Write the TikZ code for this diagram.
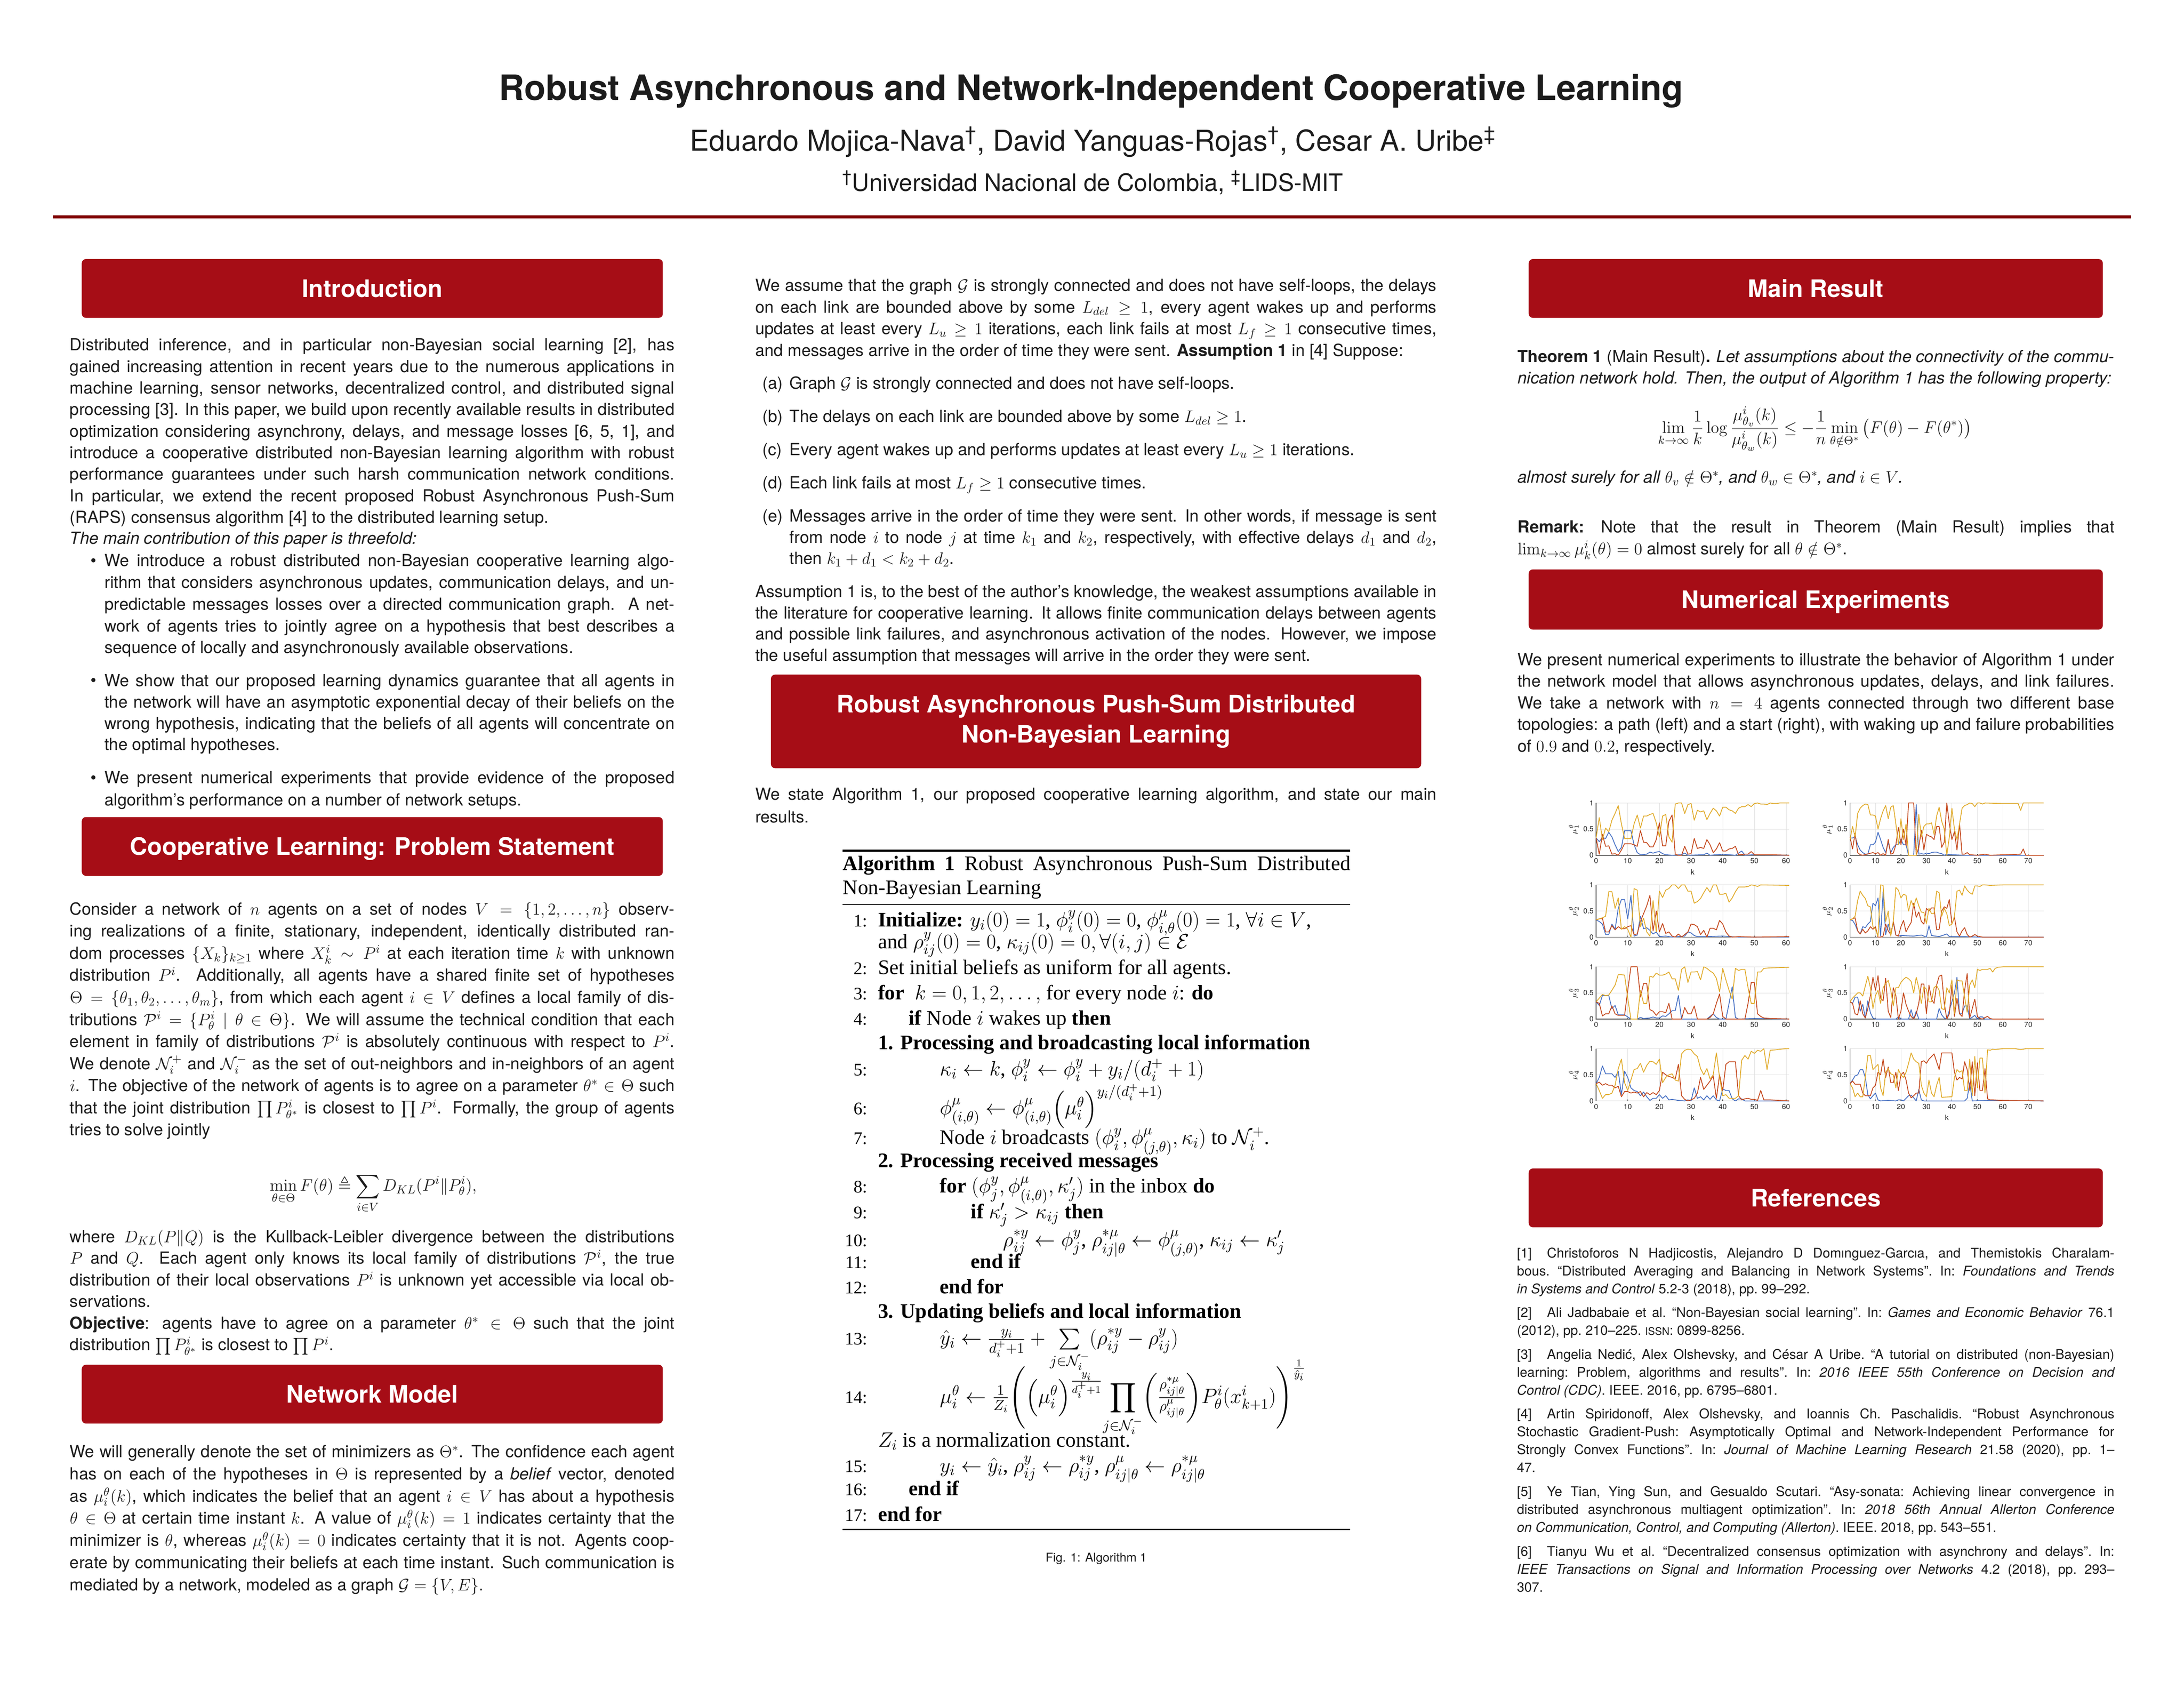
\documentclass[tikz,border=0pt]{standalone}
\usepackage{fix-cm}
\usepackage{amsmath,amssymb}
\usepackage[no-math]{fontspec}
\setmainfont{TeX Gyre Heros}
\newfontfamily\algfont{Liberation Serif}
\setlength{\parindent}{0pt}
\definecolor{boxred}{RGB}{166,13,22}
\definecolor{rulered}{RGB}{128,0,0}
\definecolor{txt}{RGB}{28,28,28}
\definecolor{mblue}{RGB}{70,112,196}
\definecolor{mred}{RGB}{196,72,28}
\definecolor{myellow}{RGB}{225,172,45}
\newcommand\bodyfs[1]{\fontsize{13.7}{#1}\selectfont}
\newcommand\algfs{\algfont\fontsize{17}{20}\selectfont}
\tikzset{
  hdr/.style={fill=boxred, rounded corners=3.4pt, text=white, font=\fontsize{19.8}{24.9}\selectfont\bfseries, inner sep=0pt, minimum height=1.696cm, minimum width=16.76cm, text height=14.2pt, text depth=0pt},
  para/.style={anchor=north west, inner sep=0pt, align=justify, text=txt},
  oneline/.style={anchor=base west, inner sep=0pt, text=txt, font=\bodyfs{17.7}},
  algl/.style={anchor=base west, inner sep=0pt, text=black, font=\algfs},
  algn/.style={anchor=base east, inner sep=0pt, text=black, font=\algfont\fontsize{14.5}{17}\selectfont},
  gridc/.style={draw=black!13, line width=0.3pt},
  axc/.style={draw=black!75, line width=0.45pt},
  tickl/.style={inner sep=0.3pt, text=black!85, font=\fontsize{6}{7}\selectfont},
  cb/.style={draw=mblue, line width=0.65pt, line join=round},
  cr/.style={draw=mred, line width=0.65pt, line join=round},
  cy/.style={draw=myellow, line width=0.65pt, line join=round},
}
% #1 x0, #2 y0 (bottom), #3 unit per k, #4 xmax, #5 mu index, #6 xticks, #7 id
\newcommand\plotframe[7]{%
  \foreach \tk in {#6}{%
    \pgfmathsetmacro\xx{#1+\tk*#3}%
    \draw[gridc] (\xx,#2) -- (\xx,#2-37.5);
    \draw[axc] (\xx,#2) -- (\xx,#2-1.0);
    \node[tickl,anchor=north] (tx#7-\tk) at (\xx,#2+1.8) {\tk};
  }%
  \pgfmathsetmacro\xe{#1+#4*#3}%
  \draw[gridc] (#1,#2-18.75) -- (\xe,#2-18.75) (#1,#2-37.5) -- (\xe,#2-37.5);
  \draw[axc] (#1,#2-37.5) -- (#1,#2) -- (\xe,#2);
  \node[tickl,anchor=east] (ty#7a) at (#1-1.4,#2) {0};
  \node[tickl,anchor=east] (ty#7b) at (#1-1.4,#2-18.75) {0.5};
  \node[tickl,anchor=east] (ty#7c) at (#1-1.4,#2-37.5) {1};
  \node[tickl,rotate=90] (yl#7) at (#1-16,#2-18.75) {$\mu^{\theta}_{#5}$};
  \node[tickl] (xl#7) at ({(#1+\xe)/2},#2+12) {k};
}
% #1 x0, #2 y0, #3 unit, #4 blue, #5 red, #6 yellow
\newcommand\curves[6]{%
  \begin{scope}[shift={(#1,#2)},xscale=#3,yscale=-37.5]
    \draw[cb] plot coordinates {#4};
    \draw[cr] plot coordinates {#5};
    \draw[cy] plot coordinates {#6};
  \end{scope}}
\begin{document}
\begin{tikzpicture}[x=0.040179cm,y=-0.040179cm]
\useasboundingbox (0,0) rectangle (1568,1213.3);
\fill[white] (0,0) rectangle (1568,1213.3);

% ---------- title block ----------
\node[anchor=base, inner sep=0pt, text=txt, font=\fontsize{28.75}{34}\selectfont\bfseries] (title) at (783.4,72.0) {Robust Asynchronous and Network-Independent Cooperative Learning};
\node[anchor=base, inner sep=0pt, text=txt, font=\fontsize{23.6}{28}\selectfont] (authors) at (784.7,108.5) {Eduardo Mojica-Nava\textsuperscript{\textdagger}, David Yanguas-Rojas\textsuperscript{\textdagger}, Cesar A. Uribe\textsuperscript{\textdaggerdbl}};
\node[anchor=base, inner sep=0pt, text=txt, font=\fontsize{19.6}{24}\selectfont] (affil) at (784.5,137.2) {\textsuperscript{\textdagger}Universidad Nacional de Colombia, \textsuperscript{\textdaggerdbl}LIDS-MIT};
\coordinate (rl) at (38,155.7);
\coordinate (rr) at (1530,155.7);
\draw[rulered, line width=0.09cm] (rl) -- (rr);

% ---------- left column ----------
\node[hdr] (hintro) at (267.3,207.1) {Introduction};
\node[para, text width=17.442cm, font=\bodyfs{17.70}] (pintro) at (50.0,240.7) {\strut Distributed inference, and in particular non-Bayesian social learning [2], has\linebreak gained increasing attention in recent years due to the numerous applications in\linebreak machine learning, sensor networks, decentralized control, and distributed signal\linebreak processing [3]. In this paper, we build upon recently available results in distributed\linebreak optimization considering asynchrony, delays, and message losses [6, 5, 1], and\linebreak introduce a cooperative distributed non-Bayesian learning algorithm with robust\linebreak performance guarantees under such harsh communication network conditions.\linebreak In particular, we extend the recent proposed Robust Asynchronous Push-Sum\linebreak (RAPS) consensus algorithm [4] to the distributed learning setup.};
\node[oneline] (pmain) at (50.0,390.5) {\textit{The main contribution of this paper is threefold:}};
\node[oneline] (b1) at (65.0,406.5) {\textbullet};
\node[para, text width=16.441cm, font=\bodyfs{17.84}] (pb1) at (74.9,395.6) {\strut We introduce a robust distributed non-Bayesian cooperative learning algo-\linebreak rithm that considers asynchronous updates, communication delays, and un-\linebreak predictable messages losses over a directed communication graph.\ \ A net-\linebreak work of agents tries to jointly agree on a hypothesis that best describes a\linebreak sequence of locally and asynchronously available observations.};
\node[oneline] (b2) at (65.0,492.6) {\textbullet};
\node[para, text width=16.441cm, font=\bodyfs{17.5}] (pb2) at (74.9,481.9) {\strut We show that our proposed learning dynamics guarantee that all agents in\linebreak the network will have an asymptotic exponential decay of their beliefs on the\linebreak wrong hypothesis, indicating that the beliefs of all agents will concentrate on\linebreak the optimal hypotheses.};
\node[oneline] (b3) at (65.0,562.4) {\textbullet};
\node[para, text width=16.441cm, font=\bodyfs{18.07}] (pb3) at (74.9,551.3) {\strut We present numerical experiments that provide evidence of the proposed\linebreak algorithm's performance on a number of network setups.};

\node[hdr] (hcoop) at (267.3,607.7) {Cooperative Learning: Problem Statement};
\node[para, text width=17.442cm, font=\bodyfs{18.12}] (pcoop) at (50.0,645.5) {\strut Consider a network of $n$ agents on a set of nodes $V=\{1,2,\dots,n\}$ observ-\linebreak ing realizations of a finite, stationary, independent, identically distributed ran-\linebreak dom processes $\{X_k\}_{k\geq1}$ where $X_k^i\sim P^i$ at each iteration time $k$ with unknown\linebreak distribution $P^i$. Additionally, all agents have a shared finite set of hypotheses\linebreak $\Theta=\{\theta_1,\theta_2,\dots,\theta_m\}$, from which each agent $i\in V$ defines a local family of dis-\linebreak tributions $\mathcal{P}^i=\{P_\theta^i\mid\theta\in\Theta\}$. We will assume the technical condition that each\linebreak element in family of distributions $\mathcal{P}^i$ is absolutely continuous with respect to $P^i$.\linebreak We denote $\mathcal{N}_i^+$ and $\mathcal{N}_i^-$ as the set of out-neighbors and in-neighbors of an agent\linebreak $i$. The objective of the network of agents is to agree on a parameter $\theta^*\in\Theta$ such\linebreak that the joint distribution $\prod P_{\theta^*}^i$ is closest to $\prod P^i$. Formally, the group of agents\linebreak tries to solve jointly};
\node[anchor=base, inner sep=0pt, text=txt, font=\bodyfs{17.7}] (eqkl) at (268,855.0) {$\displaystyle\min_{\theta\in\Theta}F(\theta)\triangleq\sum_{i\in V}D_{KL}(P^i\|P_\theta^i),$};
\node[para, text width=17.442cm, font=\bodyfs{17.76}] (pwhere) at (50.0,880.9) {\strut where $D_{KL}(P\|Q)$ is the Kullback-Leibler divergence between the distributions\linebreak $P$ and $Q$. Each agent only knows its local family of distributions $\mathcal{P}^i$, the true\linebreak distribution of their local observations $P^i$ is unknown yet accessible via local ob-\linebreak servations.\par \textbf{Objective}: agents have to agree on a parameter $\theta^*\in\Theta$ such that the joint\linebreak distribution $\prod P_{\theta^*}^i$ is closest to $\prod P^i$.};

\node[hdr] (hnet) at (267.3,1000.9) {Network Model};
\node[para, text width=17.442cm, font=\bodyfs{18.28}] (pnet) at (50.0,1034.8) {\strut We will generally denote the set of minimizers as $\Theta^*$. The confidence each agent\linebreak has on each of the hypotheses in $\Theta$ is represented by a \emph{belief} vector, denoted\linebreak as $\mu_i^\theta(k)$, which indicates the belief that an agent $i\in V$ has about a hypothesis\linebreak $\theta\in\Theta$ at certain time instant $k$. A value of $\mu_i^\theta(k)=1$ indicates certainty that the\linebreak minimizer is $\theta$, whereas $\mu_i^\theta(k)=0$ indicates certainty that it is not. Agents coop-\linebreak erate by communicating their beliefs at each time instant. Such communication is\linebreak mediated by a network, modeled as a graph $\mathcal{G}=\{V,E\}$.};

% ---------- middle column ----------
\node[para, text width=19.652cm, font=\bodyfs{17.8}] (pass) at (542.1,197.9) {\strut We assume that the graph $\mathcal{G}$ is strongly connected and does not have self-loops, the delays\linebreak on each link are bounded above by some $L_{del}\geq1$, every agent wakes up and performs\linebreak updates at least every $L_u\geq1$ iterations, each link fails at most $L_f\geq1$ consecutive times,\linebreak and messages arrive in the order of time they were sent. \textbf{Assumption 1} in [4] Suppose:};
\node[oneline] (la) at (547.2,279.3) {(a)};
\node[oneline] (ia) at (566.8,279.3) {Graph $\mathcal{G}$ is strongly connected and does not have self-loops.};
\node[oneline] (lb) at (547.2,303.1) {(b)};
\node[oneline] (ib) at (566.8,303.1) {The delays on each link are bounded above by some $L_{del}\geq1$.};
\node[oneline] (lc) at (547.2,326.9) {(c)};
\node[oneline] (ic) at (566.8,326.9) {Every agent wakes up and performs updates at least every $L_u\geq1$ iterations.};
\node[oneline] (ld) at (547.2,350.7) {(d)};
\node[oneline] (id) at (566.8,350.7) {Each link fails at most $L_f\geq1$ consecutive times.};
\node[oneline] (le) at (547.2,374.5) {(e)};
\node[para, text width=18.659cm, font=\bodyfs{17.44}] (ie) at (566.8,363.8) {\strut Messages arrive in the order of time they were sent. In other words, if message is sent\linebreak from node $i$ to node $j$ at time $k_1$ and $k_2$, respectively, with effective delays $d_1$ and $d_2$,\linebreak then $k_1+d_1<k_2+d_2$.};
\node[para, text width=19.652cm, font=\bodyfs{17.42}] (pass2) at (542.1,418.1) {\strut Assumption 1 is, to the best of the author's knowledge, the weakest assumptions available in\linebreak the literature for cooperative learning. It allows finite communication delays between agents\linebreak and possible link failures, and asynchronous activation of the nodes. However, we impose\linebreak the useful assumption that messages will arrive in the order they were sent.};

\node[fill=boxred, rounded corners=3.4pt, text=white, font=\fontsize{19.8}{24.9}\selectfont\bfseries, inner sep=0pt, minimum width=18.755cm, minimum height=2.70cm, align=center] (hraps) at (786.9,517.9) {Robust Asynchronous Push-Sum Distributed\\Non-Bayesian Learning};
\node[para, text width=19.652cm, font=\bodyfs{18.4}] (pstate) at (542.1,563.0) {\strut We state Algorithm 1, our proposed cooperative learning algorithm, and state our main\linebreak results.};

% algorithm
\coordinate (at1) at (605,610.8); \coordinate (at2) at (969.4,610.8);
\coordinate (am1) at (605,649.4); \coordinate (am2) at (969.4,649.4);
\coordinate (ab1) at (605,1098.0); \coordinate (ab2) at (969.4,1098.0);
\draw[line width=1.6pt] (at1) -- (at2);
\draw[line width=0.9pt] (am1) -- (am2);
\draw[line width=1.1pt] (ab1) -- (ab2);
\node[anchor=north west, inner sep=0pt, align=justify, text width=14.641cm, font=\algfont\fontsize{17}{19.8}\selectfont] (atitle) at (605,612.6) {\strut\textbf{Algorithm 1} Robust Asynchronous Push-Sum Distributed\linebreak Non-Bayesian Learning};
\node[algn] (n1) at (623,665.2) {1:};
\node[algl] (a1) at (630.2,665.2) {\textbf{Initialize:} $y_i(0)=1$, $\phi_i^y(0)=0$, $\phi_{i,\theta}^\mu(0)=1$, $\forall i\in V$,};
\node[algl] (a1b) at (630.2,681.0) {and $\rho_{ij}^y(0)=0$, $\kappa_{ij}(0)=0,\forall(i,j)\in\mathcal{E}$};
\node[algn] (n2) at (623,699.4) {2:};
\node[algl] (a2) at (630.2,699.4) {Set initial beliefs as uniform for all agents.};
\node[algn] (n3) at (623,717.6) {3:};
\node[algl] (a3) at (630.2,717.6) {\textbf{for}\ \ $k=0,1,2,\dots,$ for every node $i$: \textbf{do}};
\node[algn] (n4) at (623,735.8) {4:};
\node[algl] (a4) at (652.3,735.8) {\textbf{if} Node $i$ wakes up \textbf{then}};
\node[algl] (s1) at (630.2,753.3) {\textbf{1. Processing and broadcasting local information}};
\node[algn] (n5) at (623,772.3) {5:};
\node[algl] (a5) at (674.6,772.3) {$\kappa_i\leftarrow k$, $\phi_i^y\leftarrow\phi_i^y+y_i/(d_i^++1)$};
\node[algn] (n6) at (623,800.2) {6:};
\node[algl] (a6) at (674.6,800.2) {$\phi_{(i,\theta)}^\mu\leftarrow\phi_{(i,\theta)}^\mu\Big(\mu_i^\theta\Big)^{y_i/(d_i^++1)}$};
\node[algn] (n7) at (623,821.6) {7:};
\node[algl] (a7) at (674.6,821.6) {Node $i$ broadcasts $(\phi_i^y,\phi_{(j,\theta)}^\mu,\kappa_i)$ to $\mathcal{N}_i^+$.};
\node[algl] (s2) at (630.2,838.2) {\textbf{2. Processing received messages}};
\node[algn] (n8) at (623,856.4) {8:};
\node[algl] (a8) at (674.6,856.4) {\textbf{for} $(\phi_j^y,\phi_{(i,\theta)}^\mu,\kappa_j')$ in the inbox \textbf{do}};
\node[algn] (n9) at (623,874.7) {9:};
\node[algl] (a9) at (696.9,874.7) {\textbf{if} $\kappa_j'>\kappa_{ij}$ \textbf{then}};
\node[algn] (n10) at (623,894.7) {10:};
\node[algl] (a10) at (719.9,894.7) {$\rho_{ij}^{*y}\leftarrow\phi_j^y$, $\rho_{ij|\theta}^{*\mu}\leftarrow\phi_{(j,\theta)}^\mu$, $\kappa_{ij}\leftarrow\kappa_j'$};
\node[algn] (n11) at (623,910.4) {11:};
\node[algl] (a11) at (696.9,910.4) {\textbf{end if}};
\node[algn] (n12) at (623,928.8) {12:};
\node[algl] (a12) at (674.6,928.8) {\textbf{end for}};
\node[algl] (s3) at (630.2,946.2) {\textbf{3. Updating beliefs and local information}};
\node[algn] (n13) at (623,965.4) {13:};
\node[algl] (a13) at (674.6,965.4) {$\hat{y}_i\leftarrow\frac{y_i}{d_i^++1}+\sum\limits_{j\in\mathcal{N}_i^-}(\rho_{ij}^{*y}-\rho_{ij}^y)$};
\node[algn] (n14) at (623,1007.3) {14:};
\node[algl] (a14) at (674.6,1007.3) {$\mu_i^\theta\leftarrow\frac{1}{Z_i}\Bigg(\Big(\mu_i^\theta\Big)^{\frac{y_i}{d_i^++1}}{\displaystyle\prod_{j\in\mathcal{N}_i^-}}\bigg(\frac{\rho_{ij|\theta}^{*\mu}}{\rho_{ij|\theta}^{\mu}}\bigg)P_\theta^i(x_{k+1}^i)\Bigg)^{\frac{1}{\hat{y}_i}}$};
\node[algl] (az) at (630.2,1038.7) {$Z_i$ is a normalization constant.};
\node[algn] (n15) at (623,1057.0) {15:};
\node[algl] (a15) at (674.6,1057.0) {$y_i\leftarrow\hat{y}_i$, $\rho_{ij}^y\leftarrow\rho_{ij}^{*y}$, $\rho_{ij|\theta}^\mu\leftarrow\rho_{ij|\theta}^{*\mu}$};
\node[algn] (n16) at (623,1073.7) {16:};
\node[algl] (a16) at (652.3,1073.7) {\textbf{end if}};
\node[algn] (n17) at (623,1092.0) {17:};
\node[algl] (a17) at (630.2,1092.0) {\textbf{end for}};
\node[inner sep=0pt, text=txt, font=\fontsize{10}{12}\selectfont] (cap) at (787,1119) {Fig. 1: Algorithm 1};

% ---------- right column ----------
\node[hdr, minimum width=16.56cm] (hmain) at (1303.6,207.1) {Main Result};
\node[para, text width=17.213cm, font=\bodyfs{17.6}] (pthm) at (1089.4,249.3) {\strut\textbf{Theorem 1} (Main Result)\textbf{.} \textit{Let assumptions about the connectivity of the commu-\linebreak nication network hold. Then, the output of Algorithm 1 has the following property:}};
\node[inner sep=0pt, text=txt, font=\bodyfs{17.7}] (eqmain) at (1303,307.8) {$\displaystyle\lim_{k\to\infty}\frac{1}{k}\log\frac{\mu^i_{\theta_v}(k)}{\mu^i_{\theta_w}(k)}\leq-\frac{1}{n}\min_{\theta\notin\Theta^*}\big(F(\theta)-F(\theta^*)\big)$};
\node[oneline] (palm) at (1089.4,346.7) {\textit{almost surely for all $\theta_v\notin\Theta^*$, and $\theta_w\in\Theta^*$, and $i\in V$.}};
\node[para, text width=17.213cm, font=\bodyfs{17.95}] (prem) at (1089.4,371.2) {\strut\textbf{Remark:}\quad Note that the result in Theorem (Main Result) implies that\linebreak $\lim_{k\to\infty}\mu_k^i(\theta)=0$ almost surely for all $\theta\notin\Theta^*$.};
\node[hdr, minimum width=16.56cm, minimum height=1.736cm] (hnum) at (1303.6,430.4) {Numerical Experiments};
\node[para, text width=17.213cm, font=\bodyfs{17.72}] (pnum) at (1089.4,466.75) {\strut We present numerical experiments to illustrate the behavior of Algorithm 1 under\linebreak the network model that allows asynchronous updates, delays, and link failures.\linebreak We take a network with $n=4$ agents connected through two different base\linebreak topologies: a path (left) and a start (right), with waking up and failure probabilities\linebreak of $0.9$ and $0.2$, respectively.};

% plots
\plotframe{1145.9}{614.0}{2.273}{61}{1}{0,10,...,60}{p1}
\curves{1145.9}{614.0}{2.273}
{(0,.33)(1,.26)(2,.34)(3,.32)(4,.44)(5,.35)(6,.2)(7,.07)(8,.15)(9,.47)(11,.47)(12,.2)(13,.05)(14,.01)(16,.02)(17,.06)(18,.04)(19,.06)(20,.07)(21,.03)(22,.01)(24,0)(27,.01)(28,.04)(29,0)(34,.01)(35,.04)(36,0)(40,.02)(44,0)(45,.04)(46,.08)(47,0)(50,.01)(61,0)}
{(0,.33)(1,.02)(2,.4)(3,.17)(4,.18)(5,.02)(6,.03)(7,0)(8,.1)(9,.22)(11,.22)(12,.2)(13,.17)(14,.47)(15,.25)(16,.24)(17,.16)(18,.16)(19,.3)(20,.62)(21,.18)(22,.18)(23,.65)(24,.77)(25,.02)(26,0)(27,0)(28,.17)(29,.02)(30,.03)(31,.32)(32,.13)(33,.15)(34,.13)(35,.3)(36,.2)(37,.05)(38,.12)(39,.24)(40,.08)(41,.08)(42,.12)(43,.13)(44,.17)(45,.01)(47,.02)(48,.02)(49,.07)(50,.01)(55,.01)(61,0)}
{(0,.33)(1,.72)(2,.3)(3,.52)(4,.45)(5,.67)(6,.8)(7,.95)(8,.6)(9,.32)(11,.32)(12,.6)(13,.77)(14,.52)(15,.75)(16,.75)(17,.78)(18,.8)(19,.62)(20,.35)(21,.75)(22,.78)(23,.35)(24,.25)(25,.98)(26,1)(27,1)(28,.8)(29,.97)(30,.99)(31,.67)(32,.86)(33,.83)(34,.85)(35,.68)(36,.8)(37,.9)(38,.85)(39,.75)(40,.92)(41,.92)(42,.87)(43,.85)(44,.8)(45,.9)(46,.93)(47,.93)(48,.97)(49,.93)(50,.99)(51,1)(52,.98)(53,.98)(54,.97)(55,1)(56,.99)(57,.99)(58,1)(61,1)}

\plotframe{1328.2}{614.0}{1.8286}{76}{1}{0,10,...,70}{p2}
\curves{1328.2}{614.0}{1.8286}
{(0,.33)(1,.33)(2,.36)(3,.2)(4,.1)(5,.05)(6,.02)(7,.02)(8,.2)(9,.2)(10,.25)(11,.44)(12,.3)(13,.15)(14,.05)(15,.25)(16,.05)(17,.15)(18,.2)(19,.2)(20,.3)(21,.2)(22,.2)(23,0)(25,0)(26,.97)(27,.02)(28,.03)(29,.02)(30,.04)(31,.03)(32,.05)(33,.06)(34,.06)(35,.04)(36,.03)(37,0)(38,.02)(40,.01)(45,0)(76,0)}
{(0,.35)(1,.12)(2,.42)(3,.05)(4,.01)(5,0)(9,.05)(10,.03)(11,.05)(12,0)(13,.03)(14,0)(15,.3)(16,.02)(17,.04)(18,.2)(19,.53)(20,.2)(21,.5)(22,.18)(23,1)(25,1)(26,0)(27,.15)(28,.48)(29,.1)(30,.4)(31,.37)(32,.35)(33,.3)(34,.55)(35,.55)(36,.15)(37,.25)(38,1)(39,.6)(40,.3)(41,.45)(42,.1)(43,.6)(44,.02)(45,.02)(46,.05)(47,.01)(50,0)(53,.02)(55,0)(67,.02)(68,.12)(69,0)(76,0)}
{(0,.3)(1,.55)(2,.35)(3,.8)(4,.9)(5,.95)(6,.98)(7,.97)(8,.77)(9,.77)(10,.75)(11,.5)(12,.7)(13,.85)(14,.95)(15,.7)(16,.92)(17,.95)(18,.6)(19,.2)(20,.7)(21,.3)(22,.6)(23,0)(26,0)(27,.78)(28,.35)(29,.55)(30,.6)(31,.6)(32,.62)(33,.4)(34,.75)(35,.92)(36,.65)(37,.5)(38,0)(39,.35)(40,.9)(41,.5)(42,.3)(43,.6)(44,.9)(45,.95)(46,.97)(47,1)(48,.99)(49,.93)(50,1)(51,1)(52,.98)(53,1)(60,.99)(66,.99)(67,.86)(68,1)(76,1)}

\plotframe{1145.9}{672.8}{2.273}{61}{2}{0,10,...,60}{p3}
\curves{1145.9}{672.8}{2.273}
{(0,.33)(1,.3)(2,.25)(3,.05)(4,.05)(5,.25)(6,.15)(7,.55)(8,.72)(9,.72)(10,.35)(11,.8)(12,.02)(13,.04)(14,.4)(15,.16)(16,.18)(17,.13)(18,.06)(19,.1)(20,.01)(22,.02)(24,0)(28,.02)(29,.1)(30,.08)(31,.03)(32,.01)(35,.01)(40,.02)(45,0)(61,0)}
{(0,.33)(1,.35)(2,.36)(3,.1)(4,.1)(5,.22)(6,.14)(7,.2)(8,.16)(9,.16)(10,.2)(11,.22)(12,.05)(13,.06)(14,.3)(15,.45)(16,.6)(17,.8)(18,.12)(19,.5)(20,.1)(21,.26)(22,.07)(23,.1)(24,.02)(25,0)(26,.06)(27,0)(29,.1)(30,.25)(31,.24)(32,.2)(33,.05)(34,.13)(35,0)(36,.17)(37,.17)(38,.14)(39,.32)(40,.25)(41,.1)(42,.02)(43,0)(45,.01)(50,0)(61,.01)}
{(0,.33)(2,.37)(3,.4)(4,.87)(5,.87)(6,.55)(7,.75)(8,.15)(9,.2)(10,.15)(11,0)(12,.93)(13,.9)(14,.2)(15,.36)(16,.1)(17,.02)(18,.7)(19,.1)(20,.88)(21,.76)(22,.9)(23,.93)(24,1)(25,1)(26,.93)(27,1)(28,1)(29,.88)(30,.88)(31,.65)(32,.68)(33,.74)(34,.85)(35,.95)(36,.86)(37,1)(38,1)(39,.82)(40,.82)(41,.84)(42,.67)(43,.75)(44,.87)(45,.96)(47,.96)(48,.97)(49,1)(50,.99)(51,.97)(52,1)(61,.99)}

\plotframe{1328.2}{672.8}{1.8286}{76}{2}{0,10,...,70}{p4}
\curves{1328.2}{672.8}{1.8286}
{(0,.33)(1,.32)(2,.24)(3,.12)(4,.06)(5,.2)(6,.18)(7,.25)(8,.3)(9,.65)(10,.6)(11,.75)(12,.02)(13,.87)(14,.05)(15,.25)(16,.05)(17,.28)(18,.04)(19,.02)(20,.03)(25,.02)(28,.04)(30,0)(31,.22)(32,.03)(35,.01)(38,.06)(39,.01)(45,.01)(50,0)(76,0)}
{(0,.33)(1,.35)(2,.37)(3,.12)(4,.06)(5,.15)(6,.08)(7,.12)(8,.2)(9,.15)(10,.2)(11,0)(12,0)(13,.02)(14,.25)(15,.12)(16,.05)(17,.3)(18,.04)(19,.02)(20,.2)(21,.32)(22,.1)(23,.2)(24,.28)(25,.65)(26,.38)(27,.48)(28,.3)(29,.25)(30,.55)(31,.5)(32,.56)(33,.56)(34,.14)(35,.15)(36,.5)(37,.58)(38,.55)(39,.72)(40,.25)(41,.38)(42,.1)(43,.02)(44,.12)(45,.18)(46,.05)(47,0)(48,.02)(49,.05)(50,.02)(52,0)(76,0)}
{(0,.33)(1,.35)(2,.4)(3,.7)(4,.88)(5,.8)(6,.74)(7,.6)(8,.58)(9,.2)(10,.15)(11,.02)(12,1)(13,.99)(14,.3)(15,.5)(16,.02)(17,.3)(18,.95)(19,.9)(20,.75)(21,.82)(22,.8)(23,.5)(24,.7)(25,.58)(26,.75)(27,.6)(28,.48)(29,.47)(30,.26)(31,.55)(32,.45)(33,.45)(34,.88)(35,.85)(36,.4)(37,.55)(38,.45)(39,.22)(40,.25)(41,.4)(42,.88)(43,.9)(44,.8)(45,.98)(46,.9)(47,.85)(48,.82)(49,.98)(50,.98)(51,.97)(52,1)(53,1)(55,.99)(60,1)(76,1)}

\plotframe{1145.9}{731.6}{2.273}{61}{3}{0,10,...,60}{p5}
\curves{1145.9}{731.6}{2.273}
{(0,.33)(1,.26)(2,.45)(3,.45)(4,.45)(5,.2)(6,.26)(7,.08)(9,.08)(10,.04)(11,0)(13,0)(14,.03)(15,.01)(17,.02)(18,.04)(19,.02)(20,.02)(21,.06)(22,.05)(23,.1)(24,.16)(25,.16)(26,.45)(27,0)(35,0)(36,.05)(37,.1)(38,.03)(39,0)(41,0)(42,.3)(43,.62)(44,.03)(45,0)(50,.01)(61,0)}
{(0,.33)(1,.3)(2,.06)(3,.1)(4,.1)(5,.25)(6,.1)(7,.07)(9,.07)(10,.55)(11,1)(13,1)(14,.42)(15,.68)(16,.68)(17,.18)(18,.15)(19,.07)(20,.14)(21,.14)(22,.12)(23,.3)(24,0)(27,0)(28,.22)(29,.1)(30,.1)(31,.25)(32,0)(35,0)(36,.03)(37,.1)(38,.3)(39,.48)(40,.05)(41,0)(47,0)(48,.3)(49,.7)(50,.7)(51,.1)(52,.05)(53,.02)(55,.01)(61,0)}
{(0,.33)(1,.4)(2,.47)(3,.45)(4,.46)(5,.55)(6,.65)(7,.85)(8,.85)(9,.84)(10,.4)(11,0)(13,0)(14,.55)(15,.3)(16,.3)(17,.82)(18,.8)(19,.88)(20,.84)(21,.84)(22,.86)(23,.9)(24,.77)(25,.77)(26,.55)(27,.95)(28,1)(29,.7)(30,.9)(31,.9)(32,.91)(33,.75)(34,1)(35,.97)(36,.92)(37,.88)(38,.78)(39,.52)(40,.97)(41,.75)(42,.55)(43,.38)(44,.97)(45,.93)(46,.95)(47,.95)(48,.6)(49,.3)(50,.3)(51,.9)(52,.9)(53,.97)(55,.98)(61,.99)}

\plotframe{1328.2}{731.6}{1.8286}{76}{3}{0,10,...,70}{p6}
\curves{1328.2}{731.6}{1.8286}
{(0,.33)(1,.3)(2,.42)(3,.42)(4,.15)(5,.28)(6,.02)(7,.35)(8,.12)(9,.02)(10,0)(18,0)(19,.04)(20,0)(23,0)(24,.18)(25,0)(26,.15)(27,0)(34,0)(35,.2)(36,.08)(37,.02)(38,0)(41,.5)(42,.8)(43,.1)(44,.1)(45,.25)(46,.25)(47,0)(49,.07)(50,0)(51,.04)(52,.04)(53,0)(76,0)}
{(0,.33)(1,.3)(2,.1)(3,.08)(4,.35)(5,.1)(6,.02)(7,.2)(8,.45)(9,.8)(10,.55)(11,.83)(12,.4)(13,.35)(14,.78)(15,.15)(16,.03)(17,.6)(18,.45)(19,0)(20,.15)(21,.5)(22,.28)(23,.15)(24,.05)(25,0)(26,.1)(27,.3)(28,.67)(29,.67)(30,.1)(31,.65)(32,.38)(33,.3)(34,.65)(35,.82)(36,.84)(37,.3)(38,0)(39,.1)(40,.65)(41,.05)(42,.4)(43,.1)(44,.05)(45,.55)(46,.87)(47,.02)(48,.2)(49,.38)(50,.05)(51,.01)(52,0)(53,.03)(54,.05)(55,.01)(56,0)(76,0)}
{(0,.33)(1,.4)(2,.45)(3,.5)(4,.5)(5,.44)(6,.63)(7,.82)(8,.6)(9,.2)(10,.45)(11,.55)(12,.3)(13,.6)(14,.68)(15,.74)(16,.55)(17,.25)(18,.6)(19,.6)(20,.7)(21,.76)(22,.8)(23,.77)(24,.72)(25,.5)(26,.8)(27,.6)(28,.3)(29,.62)(30,.57)(31,.33)(32,.33)(33,.6)(34,.64)(35,.55)(36,.2)(37,.18)(38,.6)(39,.5)(40,.75)(41,.1)(42,.75)(43,.73)(44,.73)(45,.42)(46,.13)(47,.65)(48,.75)(49,.6)(50,.95)(51,.93)(52,.95)(54,.95)(55,.97)(56,.9)(57,.97)(58,.99)(60,1)(76,1)}

\plotframe{1145.9}{790.4}{2.273}{61}{4}{0,10,...,60}{p7}
\curves{1145.9}{790.4}{2.273}
{(0,.33)(1,.45)(2,.67)(3,.52)(4,.52)(5,.52)(6,.45)(7,.57)(8,.12)(9,.57)(10,.45)(11,.25)(12,.2)(13,.18)(14,.1)(15,.17)(16,.08)(17,.01)(18,.05)(19,.05)(20,.12)(21,.05)(22,.1)(23,.02)(24,.03)(25,.02)(26,.01)(28,0)(29,.02)(30,0)(31,.25)(32,.05)(33,.08)(34,.02)(35,.1)(36,.03)(37,.1)(38,.02)(39,0)(40,.23)(41,.2)(42,.2)(43,.04)(44,0)(45,.04)(46,.04)(47,0)(61,0)}
{(0,.33)(1,.36)(2,.3)(3,.33)(4,.3)(5,.3)(6,.25)(7,.28)(8,.08)(9,.18)(10,.18)(11,.15)(12,.17)(13,.15)(14,.18)(15,.08)(16,.16)(17,.12)(18,.16)(19,.12)(20,.2)(21,.55)(22,.5)(23,.47)(24,.45)(25,.42)(26,.7)(27,.1)(28,.03)(29,0)(30,.02)(31,.05)(32,.15)(33,.45)(34,.22)(35,.3)(36,.38)(37,.48)(38,.05)(39,.5)(40,.2)(41,.7)(42,.75)(44,.75)(45,.1)(46,.02)(47,.04)(48,.05)(49,.03)(50,.03)(51,.01)(52,.2)(53,.02)(55,.02)(61,0)}
{(0,.33)(1,.2)(2,.05)(3,.12)(4,.12)(5,.15)(6,.3)(7,.62)(8,.8)(9,.35)(10,.2)(11,.4)(12,.6)(13,.62)(14,.72)(15,.55)(16,.68)(17,.76)(18,.75)(19,.7)(20,.8)(21,.35)(22,.45)(23,.5)(24,.52)(25,.4)(26,.38)(27,.9)(28,.97)(29,.99)(30,.98)(31,.9)(32,.85)(33,.62)(34,.5)(35,.62)(36,.42)(37,.5)(38,.92)(39,.45)(40,.1)(41,.12)(42,.05)(44,.05)(45,.1)(46,.78)(47,.87)(48,.8)(49,.95)(50,.91)(51,.97)(52,.95)(53,1)(54,.6)(55,.97)(57,.98)(58,.99)(60,1)(61,1)}

\plotframe{1328.2}{790.4}{1.8286}{76}{4}{0,10,...,70}{p8}
\curves{1328.2}{790.4}{1.8286}
{(0,.33)(1,.4)(2,.48)(3,.5)(4,.6)(5,.6)(6,.45)(7,.12)(8,.04)(9,.1)(10,.15)(11,.02)(12,0)(15,.01)(18,0)(19,.02)(20,.02)(21,0)(23,.1)(24,.11)(25,.06)(26,0)(27,.22)(28,.02)(29,0)(45,0)(46,.05)(47,.35)(48,0)(55,.01)(76,0)}
{(0,.33)(1,.38)(2,.32)(4,.32)(5,.15)(6,.1)(8,.1)(9,.25)(10,.3)(11,.55)(12,.5)(13,.8)(14,.45)(15,.65)(16,.35)(17,.35)(18,.55)(19,.2)(20,.5)(21,.55)(22,.4)(23,.15)(24,.06)(25,.1)(26,.15)(27,.15)(28,.75)(29,.77)(30,.72)(31,.8)(32,.85)(33,.9)(34,.75)(35,.6)(36,.92)(40,.92)(41,.55)(42,.4)(43,.45)(44,.42)(45,.75)(46,.6)(47,.2)(48,.75)(49,.1)(50,.73)(51,.2)(52,.2)(53,.62)(54,.04)(55,.02)(56,.02)(60,.01)(76,0)}
{(0,.33)(1,.25)(2,.08)(3,.15)(4,.08)(5,.08)(6,.45)(7,.87)(8,.87)(9,.6)(10,.65)(11,.7)(12,.25)(13,.1)(14,.55)(15,.62)(16,.52)(17,.5)(18,.25)(19,.6)(20,.5)(21,.45)(22,.55)(23,.72)(24,.92)(25,.8)(26,.75)(27,.72)(28,.3)(29,.15)(30,.08)(31,.4)(32,.15)(33,.08)(34,.3)(35,.45)(36,.07)(40,.08)(41,.45)(42,.6)(43,.55)(44,.58)(45,.2)(46,.2)(47,.8)(48,.1)(49,.85)(50,.25)(51,.82)(52,.82)(53,.15)(54,.98)(55,.97)(56,.99)(57,.98)(58,.99)(60,1)(65,1)(67,.98)(69,1)(76,1)}

% references
\node[hdr, minimum width=16.56cm] (href) at (1303.6,860.0) {References};
\tikzset{refp/.style={anchor=north west, inner sep=0pt, align=justify, text=txt, text width=17.233cm, font=\fontsize{11}{14.7}\selectfont\frenchspacing}}
\node[refp] (r1) at (1088.9,893.7) {\hangindent=11.43pt\hangafter=1\strut\makebox[24.7pt][l]{[1]}Christoforos N Hadjicostis, Alejandro D Dom\i nguez-Garc\i a, and Themistokis Charalam-\linebreak bous. ``Distributed Averaging and Balancing in Network Systems''. In: \textit{Foundations and Trends\linebreak in Systems and Control} 5.2-3 (2018), pp. 99--292.};
\node[refp] (r2) at (1088.9,936.4) {\hangindent=11.43pt\hangafter=1\strut\makebox[24.7pt][l]{[2]}Ali Jadbabaie et al. ``Non-Bayesian social learning''. In: \textit{Games and Economic Behavior} 76.1\linebreak (2012), pp. 210--225. {\fontsize{8.6}{10}\selectfont ISSN}: 0899-8256.};
\node[refp] (r3) at (1088.9,966.5) {\hangindent=11.43pt\hangafter=1\strut\makebox[24.7pt][l]{[3]}Angelia Nedić, Alex Olshevsky, and César A Uribe. ``A tutorial on distributed (non-Bayesian)\linebreak learning: Problem, algorithms and results''. In: \textit{2016 IEEE 55th Conference on Decision and\linebreak Control (CDC)}. IEEE. 2016, pp. 6795--6801.};
\node[refp] (r4) at (1088.9,1009.3) {\hangindent=11.43pt\hangafter=1\strut\makebox[24.7pt][l]{[4]}Artin Spiridonoff, Alex Olshevsky, and Ioannis Ch. Paschalidis. ``Robust Asynchronous\linebreak Stochastic Gradient-Push: Asymptotically Optimal and Network-Independent Performance for\linebreak Strongly Convex Functions''. In: \textit{Journal of Machine Learning Research} 21.58 (2020), pp. 1--\linebreak 47.};
\node[refp] (r5) at (1088.9,1065.1) {\hangindent=11.43pt\hangafter=1\strut\makebox[24.7pt][l]{[5]}Ye Tian, Ying Sun, and Gesualdo Scutari. ``Asy-sonata: Achieving linear convergence in\linebreak distributed asynchronous multiagent optimization''. In: \textit{2018 56th Annual Allerton Conference\linebreak on Communication, Control, and Computing (Allerton)}. IEEE. 2018, pp. 543--551.};
\node[refp] (r6) at (1088.9,1107.9) {\hangindent=11.43pt\hangafter=1\strut\makebox[24.7pt][l]{[6]}Tianyu Wu et al. ``Decentralized consensus optimization with asynchrony and delays''. In:\linebreak \textit{IEEE Transactions on Signal and Information Processing over Networks} 4.2 (2018), pp. 293--\linebreak 307.};
\end{tikzpicture}
\end{document}
